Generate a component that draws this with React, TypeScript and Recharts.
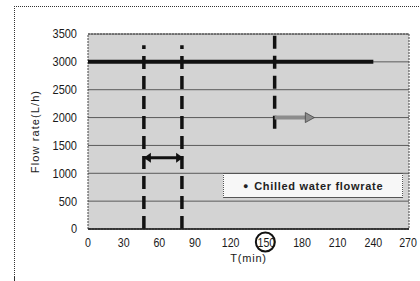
import React from 'react';
import { ComposedChart, Line, XAxis, YAxis, CartesianGrid, ReferenceArea, Legend } from 'recharts';

// ---- data ----
const xTicks = [0, 30, 60, 90, 120, 150, 180, 210, 240, 270];
const yTicks = [0, 500, 1000, 1500, 2000, 2500, 3000, 3500];

// chilled water flowrate (min, L/h)
const flowTimes = [0, 240];
const flowRates = [3000, 3000];

// dashed vertical markers
const markerTimes = [47, 79, 157];
const markerBottoms = [0, 0, 1800];
const markerTops = [3300, 3300, 3500];

// double-headed interval arrow
const intervalTimes = [47, 80];
const intervalRates = [1280, 1280];

// grey shift arrow
const shiftTimes = [157, 187];
const shiftRates = [2000, 2000];

const circledTick = 150;

const flowData = flowTimes.map((t, i) => ({ t, v: flowRates[i] }));
const markerData = markerTimes.map((t, i) => [
  { t, v: markerBottoms[i] },
  { t, v: markerTops[i] },
]);
const intervalData = intervalTimes.map((t, i) => ({ t, v: intervalRates[i] }));
const shiftData = shiftTimes.map((t, i) => ({ t, v: shiftRates[i] }));

const tickFont = "'Liberation Sans', Arial, sans-serif";
const labelFont = "'Liberation Sans', Arial, sans-serif";

const XTick = (props: any) => {
  const { x, y, payload } = props;
  return (
    <g>
      <g transform={`translate(${x},${y + 5}) scale(0.85,1)`}>
        <text x={0} y={0} dy="0.355em" textAnchor="middle" fontFamily={tickFont} fontSize={12.5} fill="#1a1a1a">
          {payload.value}
        </text>
      </g>
      {payload.value === circledTick && (
        <ellipse cx={x - 1} cy={y + 4} rx={9.5} ry={9.5} fill="none" stroke="#111" strokeWidth={2} />
      )}
    </g>
  );
};

const YTick = (props: any) => {
  const { x, y, payload } = props;
  return (
    <g transform={`translate(${x},${y}) scale(0.88,1)`}>
      <text x={0} y={0} dy="0.355em" textAnchor="end" fontFamily={tickFont} fontSize={12.5} fill="#1a1a1a">
        {payload.value}
      </text>
    </g>
  );
};

const doubleArrowDot = (p: any) => {
  const dir = p.index === 0 ? -1 : 1;
  const { cx, cy } = p;
  return (
    <path
      key={`da-${p.index}`}
      d={`M${cx},${cy} L${cx - dir * 7},${cy - 5} L${cx - dir * 7},${cy + 5} Z`}
      fill="#111"
    />
  );
};

const shiftArrowDot = (p: any) => {
  const { cx, cy } = p;
  if (p.index === 0) return <g key={`sa-${p.index}`} />;
  return (
    <path
      key={`sa-${p.index}`}
      d={`M${cx + 4},${cy} L${cx - 5},${cy - 5} L${cx - 5},${cy + 5} Z`}
      fill="#8c8c8c"
      stroke="#444"
      strokeWidth={0.8}
    />
  );
};

const LegendBox = () => (
  <div
    style={{
      width: 180,
      height: 25,
      boxSizing: 'border-box',
      border: '1px solid #555',
      borderLeft: '1px dotted #555',
      borderRight: '1px dotted #555',
      background: '#f7f7f7',
      display: 'flex',
      alignItems: 'center',
      paddingLeft: 19,
      fontFamily: labelFont,
      fontSize: 11,
      fontWeight: 'bold',
      letterSpacing: 0.7,
      color: '#222',
      whiteSpace: 'nowrap',
    }}
  >
    <span style={{ fontSize: 9, marginRight: 5 }}>●</span>
    Chilled water flowrate
  </div>
);

export default function App() {
  return (
    <div style={{ position: 'absolute', left: 0, top: 0, width: 420, height: 281, background: '#fff' }}>
      <div
        style={{
          position: 'absolute',
          left: 14,
          top: 6,
          width: 406,
          height: 268,
          borderTop: '1px dotted #333',
          borderLeft: '1px dotted #333',
        }}
      />
      <div style={{ position: 'absolute', left: 14, top: 276, width: 1, height: 5, background: '#333' }} />
      <ComposedChart
        width={420}
        height={281}
        margin={{ top: 34, right: 11, bottom: 22, left: 0 }}
        style={{ position: 'absolute', left: 0, top: 0 }}
      >
        <CartesianGrid vertical={false} stroke="#5a5a5a" strokeWidth={1} fill="#d3d3d3" fillOpacity={1} />
        <XAxis
          dataKey="t"
          type="number"
          domain={[0, 270]}
          ticks={xTicks}
          allowDataOverflow
          height={30}
          tickSize={0}
          tickMargin={9}
          tickLine={false}
          axisLine={{ stroke: '#222', strokeWidth: 1.5 }}
          tick={<XTick />}
          label={{
            content: (props: any) => {
              const vb = props.viewBox;
              return (
                <text
                  x={vb.x + vb.width / 2}
                  y={258}
                  dy="0.355em"
                  textAnchor="middle"
                  fontFamily={labelFont}
                  fontSize={11}
                  letterSpacing={0.8}
                  fill="#1a1a1a"
                >
                  T(min)
                </text>
              );
            },
          }}
        />
        <YAxis
          dataKey="v"
          type="number"
          domain={[0, 3500]}
          ticks={yTicks}
          allowDataOverflow
          width={88}
          tickSize={0}
          tickMargin={11}
          tickLine={false}
          axisLine={false}
          tick={<YTick />}
          label={{
            content: (props: any) => {
              const vb = props.viewBox;
              const cx = 35;
              const cy = vb.y + vb.height / 2;
              return (
                <text
                  x={cx}
                  y={cy}
                  dy="0.355em"
                  textAnchor="middle"
                  transform={`rotate(-90, ${cx}, ${cy})`}
                  fontFamily={labelFont}
                  fontSize={11}
                  letterSpacing={1.1}
                  fill="#1a1a1a"
                >
                  Flow rate(L/h)
                </text>
              );
            },
          }}
        />
        <ReferenceArea x1={0} x2={270} y1={0} y2={3500} fill="none" stroke="#444" strokeDasharray="2 1" />
        {markerData.map((d, i) => (
          <Line
            key={`m-${i}`}
            data={d}
            dataKey="v"
            type="linear"
            stroke="#111"
            strokeWidth={3.5}
            strokeDasharray="13 7"
            dot={false}
            activeDot={false}
            isAnimationActive={false}
            legendType="none"
          />
        ))}
        <Line
          data={shiftData}
          dataKey="v"
          type="linear"
          stroke="#8c8c8c"
          strokeWidth={4}
          dot={shiftArrowDot}
          activeDot={false}
          isAnimationActive={false}
          legendType="none"
        />
        <Line
          data={intervalData}
          dataKey="v"
          type="linear"
          stroke="#111"
          strokeWidth={3}
          dot={doubleArrowDot}
          activeDot={false}
          isAnimationActive={false}
          legendType="none"
        />
        <Line
          name="Chilled water flowrate"
          data={flowData}
          dataKey="v"
          type="linear"
          stroke="#111"
          strokeWidth={4}
          dot={false}
          activeDot={false}
          isAnimationActive={false}
        />
        <Legend
          layout="horizontal"
          verticalAlign="middle"
          align="center"
          content={<LegendBox />}
          wrapperStyle={{ position: 'absolute', left: 223, top: 173, width: 180, height: 25 }}
        />
      </ComposedChart>
    </div>
  );
}
